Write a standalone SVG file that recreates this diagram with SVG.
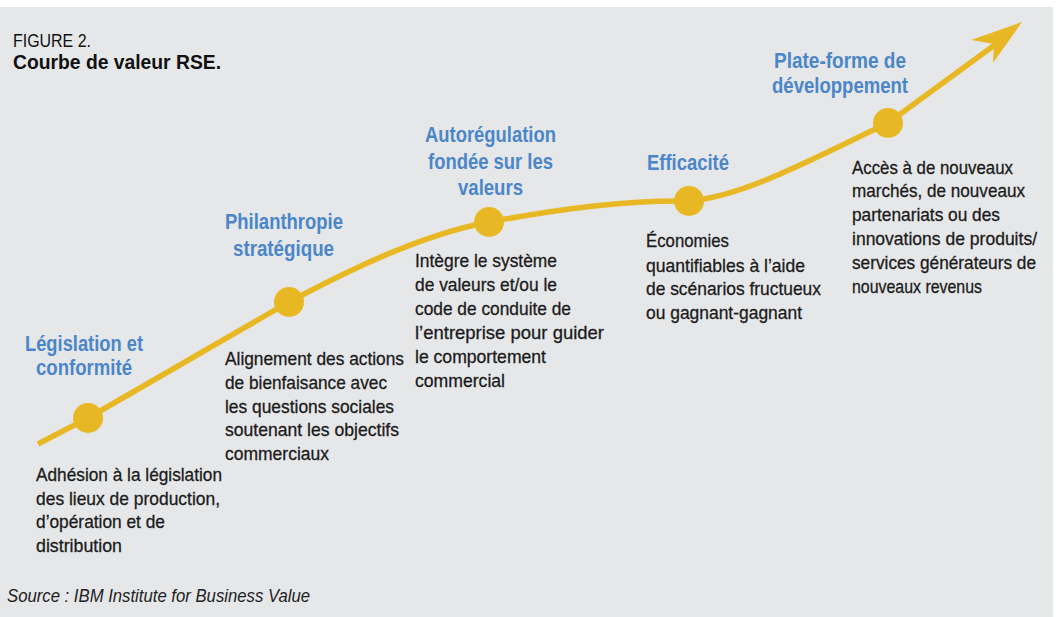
<svg xmlns="http://www.w3.org/2000/svg" width="1057" height="617" viewBox="0 0 1057 617">
  <style>
    .bg { fill: #e6e7e9; }
    .title { font-family: "Liberation Sans Narrow", "Liberation Sans", Arial, sans-serif; fill: #111111; }
    .t1 { font-size: 19px; }
    .t2 { font-size: 21px; font-weight: bold; }
    .head { font-family: "Liberation Sans Narrow", "Liberation Sans", Arial, sans-serif; font-size: 22.5px; font-weight: bold; fill: #4a86c8; }
    .body { font-family: "Liberation Sans Narrow", "Liberation Sans", Arial, sans-serif; font-size: 19px; fill: #1b1b1b; stroke: #1b1b1b; stroke-width: 0.3; }
    .src { font-family: "Liberation Sans Narrow", "Liberation Sans", Arial, sans-serif; font-size: 19px; font-style: italic; fill: #222222; }
    .curve { fill: none; stroke: #e8b824; stroke-width: 5.5; stroke-linejoin: round; }
    .tip { fill: #e8b824; }
    .dot { fill: #e8b824; }
  </style>

  <rect x="0" y="0" width="1057" height="617" fill="#ffffff"/>
  <rect class="bg" x="0" y="7" width="1053" height="610"/>

  <g id="title">
    <text class="title t1" x="13" y="47" textLength="78" lengthAdjust="spacingAndGlyphs">FIGURE 2.</text>
    <text class="title t2" x="13" y="69" textLength="208" lengthAdjust="spacingAndGlyphs">Courbe de valeur RSE.</text>
  </g>

  <!-- value curve with its arrowhead -->
  <g id="connectors">
    <path class="curve" d="M38 444 L88 418 L289 302 C345 272 420 235 489 222 C560 209 625 200 689 201 C745 196 810 160 888 123 L996 44"/>
    <polygon class="tip" points="1022,22 971,40 994,44 993,63"/>
  </g>

  <g id="node-legislation">
    <circle class="dot" cx="88" cy="418" r="15"/>
    <text class="head" x="25" y="351" textLength="118" lengthAdjust="spacingAndGlyphs">Législation et</text>
    <text class="head" x="36" y="375" textLength="96" lengthAdjust="spacingAndGlyphs">conformité</text>
    <text class="body" x="36" y="481" textLength="186" lengthAdjust="spacingAndGlyphs">Adhésion à la législation</text>
    <text class="body" x="36" y="505" textLength="184" lengthAdjust="spacingAndGlyphs">des lieux de production,</text>
    <text class="body" x="36" y="528" textLength="129" lengthAdjust="spacingAndGlyphs">d’opération et de</text>
    <text class="body" x="36" y="552" textLength="86" lengthAdjust="spacingAndGlyphs">distribution</text>
  </g>

  <g id="node-philanthropie">
    <circle class="dot" cx="289" cy="302" r="15"/>
    <text class="head" x="225" y="229" textLength="118" lengthAdjust="spacingAndGlyphs">Philanthropie</text>
    <text class="head" x="233" y="256" textLength="101" lengthAdjust="spacingAndGlyphs">stratégique</text>
    <text class="body" x="225" y="365" textLength="179" lengthAdjust="spacingAndGlyphs">Alignement des actions</text>
    <text class="body" x="225" y="389" textLength="162" lengthAdjust="spacingAndGlyphs">de bienfaisance avec</text>
    <text class="body" x="225" y="413" textLength="169" lengthAdjust="spacingAndGlyphs">les questions sociales</text>
    <text class="body" x="225" y="436" textLength="174" lengthAdjust="spacingAndGlyphs">soutenant les objectifs</text>
    <text class="body" x="225" y="460" textLength="104" lengthAdjust="spacingAndGlyphs">commerciaux</text>
  </g>

  <g id="node-autoregulation">
    <circle class="dot" cx="489" cy="222" r="15"/>
    <text class="head" x="425" y="142" textLength="131" lengthAdjust="spacingAndGlyphs">Autorégulation</text>
    <text class="head" x="428" y="169" textLength="125" lengthAdjust="spacingAndGlyphs">fondée sur les</text>
    <text class="head" x="458" y="195" textLength="65" lengthAdjust="spacingAndGlyphs">valeurs</text>
    <text class="body" x="415" y="267" textLength="142" lengthAdjust="spacingAndGlyphs">Intègre le système</text>
    <text class="body" x="415" y="291" textLength="142" lengthAdjust="spacingAndGlyphs">de valeurs et/ou le</text>
    <text class="body" x="415" y="315" textLength="156" lengthAdjust="spacingAndGlyphs">code de conduite de</text>
    <text class="body" x="415" y="339" textLength="189" lengthAdjust="spacingAndGlyphs">l’entreprise pour guider</text>
    <text class="body" x="415" y="363" textLength="131" lengthAdjust="spacingAndGlyphs">le comportement</text>
    <text class="body" x="415" y="387" textLength="90" lengthAdjust="spacingAndGlyphs">commercial</text>
  </g>

  <g id="node-efficacite">
    <circle class="dot" cx="689" cy="201" r="15"/>
    <text class="head" x="647" y="170" textLength="82" lengthAdjust="spacingAndGlyphs">Efficacité</text>
    <text class="body" x="646" y="247" textLength="83" lengthAdjust="spacingAndGlyphs">Économies</text>
    <text class="body" x="646" y="272" textLength="159" lengthAdjust="spacingAndGlyphs">quantifiables à l’aide</text>
    <text class="body" x="646" y="295" textLength="175" lengthAdjust="spacingAndGlyphs">de scénarios fructueux</text>
    <text class="body" x="646" y="319" textLength="156" lengthAdjust="spacingAndGlyphs">ou gagnant-gagnant</text>
  </g>

  <g id="node-plateforme">
    <circle class="dot" cx="888" cy="123" r="15"/>
    <text class="head" x="774" y="68" textLength="132" lengthAdjust="spacingAndGlyphs">Plate-forme de</text>
    <text class="head" x="772" y="93" textLength="136" lengthAdjust="spacingAndGlyphs">développement</text>
    <text class="body" x="852" y="174" textLength="161" lengthAdjust="spacingAndGlyphs">Accès à de nouveaux</text>
    <text class="body" x="852" y="197" textLength="173" lengthAdjust="spacingAndGlyphs">marchés, de nouveaux</text>
    <text class="body" x="852" y="221" textLength="148" lengthAdjust="spacingAndGlyphs">partenariats ou des</text>
    <text class="body" x="852" y="245" textLength="185" lengthAdjust="spacingAndGlyphs">innovations de produits/</text>
    <text class="body" x="852" y="269" textLength="184" lengthAdjust="spacingAndGlyphs">services générateurs de</text>
    <text class="body" x="852" y="293" textLength="130" lengthAdjust="spacingAndGlyphs">nouveaux revenus</text>
  </g>

  <g id="source">
    <text class="src" x="7" y="602" textLength="303" lengthAdjust="spacingAndGlyphs">Source : IBM Institute for Business Value</text>
  </g>
</svg>
